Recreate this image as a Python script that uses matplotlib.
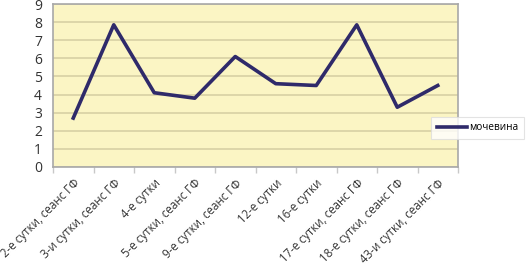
import matplotlib
matplotlib.use("Agg")
import matplotlib.pyplot as plt

categories = ["2-е сутки, сеанс ГФ", "3-и сутки, сеанс ГФ", "4-е сутки",
              "5-е сутки, сеанс ГФ", "9-е сутки, сеанс ГФ", "12-е сутки",
              "16-е сутки", "17-е сутки, сеанс ГФ", "18-е сутки, сеанс ГФ",
              "43-и сутки, сеанс ГФ"]
urea = [2.7, 7.85, 4.1, 3.8, 6.1, 4.6, 4.5, 7.85, 3.3, 4.5]
yticks = list(range(0, 10))

plt.rcParams['font.family'] = ['Open Sans', 'DejaVu Sans']
fig = plt.figure(figsize=(5.31, 2.72), dpi=100)
ax = fig.add_axes([53/531, 1-167/272, 405/531, 163/272])
ax.set_facecolor("#FBF5C4")
x = list(range(len(categories)))
ax.plot(x, urea, color="#2F2A6A", lw=2.6, label="мочевина")
ax.set_xlim(-0.5, len(categories)-0.5)
ax.set_ylim(0, 9)
ax.set_yticks(yticks)
ax.yaxis.grid(True, color="#D8D0A4", lw=1.2)
ax.set_axisbelow(True)
ax.set_xticks(x)
ax.set_xticklabels(categories, rotation=45, ha="right", rotation_mode="anchor", fontsize=8.3, color="#333333")
ax.set_xticks([i - 0.5 for i in range(len(categories) + 1)], minor=True)
ax.tick_params(axis="x", which="major", length=0, pad=7)
ax.tick_params(axis="x", which="minor", length=4, color="#C8C8C8", width=1)
ax.tick_params(axis="y", length=0, labelsize=10, colors="#333333", pad=8)
for s in ax.spines.values():
    s.set_color("#A8A8A8")
    s.set_linewidth(1.2)
leg = fig.legend(loc="upper left", bbox_to_anchor=(431/531, 1-117/272), fontsize=7.2,
                 frameon=True, fancybox=False, edgecolor="#DDDDDD", handlelength=3.0,
                 borderpad=0.55, handletextpad=0.25, borderaxespad=0)
leg.get_frame().set_linewidth(0.8)
fig.savefig("out.png", dpi=100)
